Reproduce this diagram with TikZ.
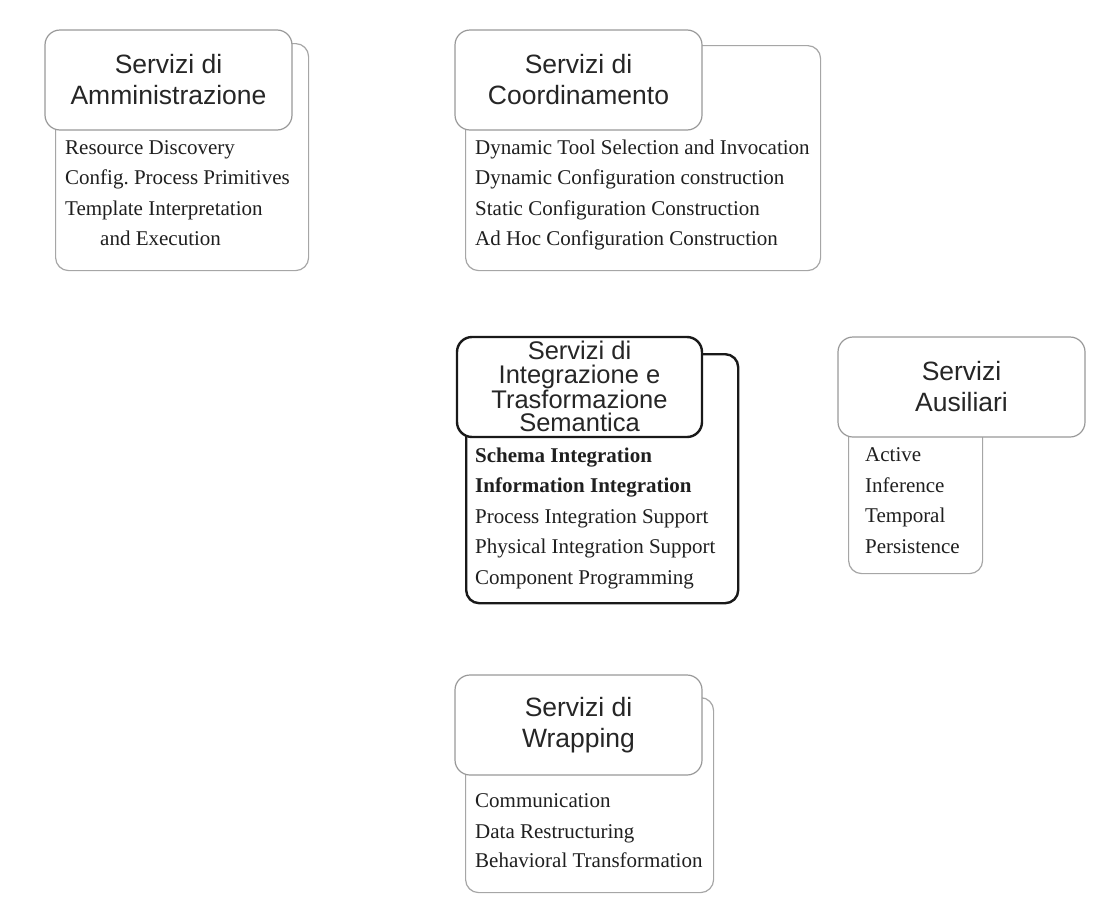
\documentclass[tikz,border=0pt]{standalone}
\usepackage{fontspec}
\setmainfont{Liberation Serif}
\newfontfamily\hdrfont{Liberation Sans}
\frenchspacing
\begin{document}
\begin{tikzpicture}[x=1pt,y=-1pt,
  panel/.style={draw=black!35, line width=1.2pt, fill=white, rounded corners=13pt,
    inner sep=0pt, anchor=north west},
  header/.style={draw=black!40, line width=1.2pt, fill=white, rounded corners=15pt,
    inner sep=0pt, anchor=center, align=center, text=black!85,
    minimum width=247pt, minimum height=100pt,
    font=\hdrfont\fontsize{26.5}{31}\selectfont},
  strong/.style={draw=black!90, line width=2.4pt},
  headtext/.style={inner sep=0pt, align=center, text=black!85,
    font=\hdrfont\fontsize{25.5}{23.5}\selectfont},
  item/.style={anchor=base west, inner sep=0pt, text=black!88,
    font=\fontsize{21}{24}\selectfont},
  bolditem/.style={item, font=\bfseries\fontsize{21}{24}\selectfont}]

\useasboundingbox (0,0) rectangle (1112,900);

% Servizi di Amministrazione
\node[panel, minimum width=253pt, minimum height=227pt] (amback) at (55,43) {};
\node[header] (amhead) at (168.5,80) {Servizi di\\Amministrazione};
\node[item] (am1) at (65,154) {Resource Discovery};
\node[item] (am2) at (65,184) {Config.\ Process Primitives};
\node[item] (am3) at (65,215) {Template Interpretation};
\node[item] (am4) at (100,245) {and Execution};

% Servizi di Coordinamento
\node[panel, minimum width=355pt, minimum height=225pt] (coback) at (465,45) {};
\node[header] (cohead) at (578.5,80) {Servizi di\\Coordinamento};
\node[item] (co1) at (475,154) {Dynamic Tool Selection and Invocation};
\node[item] (co2) at (475,184) {Dynamic Configuration construction};
\node[item] (co3) at (475,215) {Static Configuration Construction};
\node[item] (co4) at (475,245) {Ad Hoc Configuration Construction};

% Servizi di Integrazione e Trasformazione Semantica
\node[panel, strong, minimum width=272pt, minimum height=249pt] (inback) at (465,353) {};
\node[header, strong, minimum width=245pt] (inhead) at (579.5,387) {};
\node[headtext] (inheadtext) at (579.5,386.5)
  {Servizi di\\Integrazione e\\Trasformazione\\Semantica};
\node[bolditem] (in1) at (475,462) {Schema Integration};
\node[bolditem] (in2) at (475,492) {Information Integration};
\node[item] (in3) at (475,523) {Process Integration Support};
\node[item] (in4) at (475,553) {Physical Integration Support};
\node[item] (in5) at (475,584) {Component Programming};

% Servizi Ausiliari
\node[panel, minimum width=134pt, minimum height=223pt] (auback) at (848,350) {};
\node[header] (auhead) at (961.5,387) {Servizi\\Ausiliari};
\node[item] (au1) at (865,461) {Active};
\node[item] (au2) at (865,492) {Inference};
\node[item] (au3) at (865,522) {Temporal};
\node[item] (au4) at (865,553) {Persistence};

% Servizi di Wrapping
\node[panel, minimum width=248pt, minimum height=195pt] (wrback) at (465,697) {};
\node[header] (wrhead) at (578.5,725) {Servizi di\\Wrapping};
\node[item] (wr1) at (475,807) {Communication};
\node[item] (wr2) at (475,838) {Data Restructuring};
\node[item] (wr3) at (475,867) {Behavioral Transformation};

\end{tikzpicture}
\end{document}
